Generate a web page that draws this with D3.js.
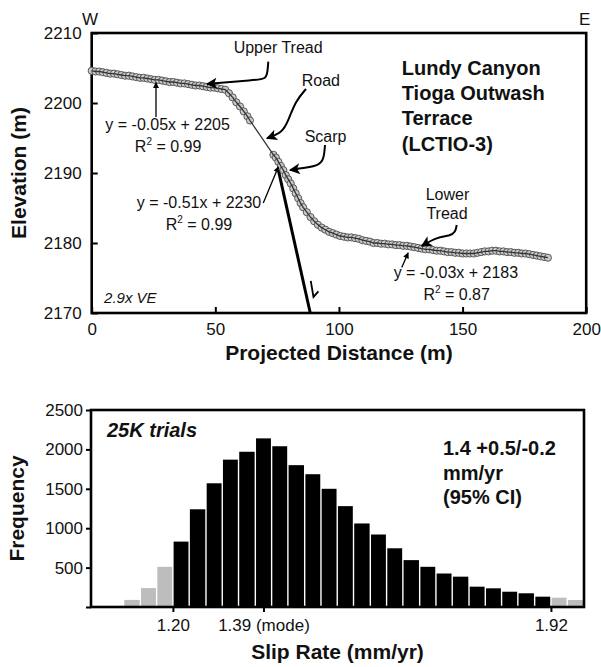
<!DOCTYPE html>
<html>
<head>
<meta charset="utf-8">
<script src="https://cdnjs.cloudflare.com/ajax/libs/d3/7.8.5/d3.min.js"></script>
<style>
  body { margin: 0; background: #fff; }
  svg { display: block; font-family: "Liberation Sans", Arial, sans-serif; }
</style>
</head>
<body>
<svg id="chart"></svg>
<script>
const width = 601;
const height = 667;

// ---- topographic profile (distance m, elevation m)
const profile = [
  [0, 2204.6], [1.5, 2204.5], [3, 2204.5], [4.5, 2204.4], [6, 2204.3], [7.5, 2204.2],
  [9, 2204.2], [10.5, 2204.1], [12, 2204.0], [13.5, 2203.9], [15, 2203.9], [16.5, 2203.8],
  [18, 2203.7], [19.5, 2203.6], [21, 2203.6], [22.5, 2203.5], [24, 2203.4], [25.5, 2203.3],
  [27, 2203.3], [28.5, 2203.2], [30, 2203.1], [31.5, 2203.0], [33, 2203.0], [34.5, 2202.9],
  [36, 2202.8], [37.5, 2202.8], [39, 2202.7], [40.5, 2202.6], [42, 2202.5], [43.5, 2202.5],
  [45, 2202.4], [46.5, 2202.3], [48, 2202.2], [49.5, 2202.2], [51, 2202.1], [52.5, 2202.0],
  [54, 2201.9], [55.5, 2201.4], [57, 2200.8], [58.5, 2200.1], [60, 2199.5], [61.5, 2198.8],
  [63, 2198.1], [64, 2197.5],
  [73.5, 2192.6], [74.5, 2192.2], [75.5, 2191.6], [76.5, 2191.0], [77.5, 2190.4], [78.5, 2189.7],
  [79.5, 2189.1], [80.5, 2188.5], [81.5, 2187.8], [82.5, 2187.1], [83.5, 2186.4], [84.5, 2185.7],
  [85.5, 2185.1], [87, 2184.4], [88.5, 2183.7], [90, 2183.1], [91.5, 2182.6], [93, 2182.2],
  [94.5, 2181.9], [96, 2181.6], [97.5, 2181.4], [99, 2181.2], [100.5, 2181.0], [102, 2180.9],
  [103.5, 2180.8], [105, 2180.8], [106.5, 2180.7], [108, 2180.6], [109.5, 2180.4], [111, 2180.3],
  [112.5, 2180.2], [114, 2180.0], [115.5, 2180.0], [117, 2179.9], [118.5, 2179.9], [120, 2179.8],
  [121.5, 2179.8], [123, 2179.7], [124.5, 2179.7], [126, 2179.6], [127.5, 2179.6], [129, 2179.5],
  [130.5, 2179.4], [132, 2179.3], [133.5, 2179.2], [135, 2179.1], [136.5, 2179.1], [138, 2179.0],
  [139.5, 2178.9], [141, 2178.9], [142.5, 2178.8], [144, 2178.7], [145.5, 2178.7], [147, 2178.6],
  [148.5, 2178.6], [150, 2178.5], [151.5, 2178.5], [153, 2178.5], [154.5, 2178.5], [156, 2178.6],
  [157.5, 2178.7], [159, 2178.8], [160.5, 2178.8], [162, 2178.9], [163.5, 2178.9], [165, 2178.8],
  [166.5, 2178.8], [168, 2178.7], [169.5, 2178.7], [171, 2178.6], [172.5, 2178.6], [174, 2178.5],
  [175.5, 2178.5], [177, 2178.4], [178.5, 2178.3], [180, 2178.2], [181.5, 2178.1], [183, 2178.0],
  [184.5, 2177.9]
];

const faultTrace = [[75.5, 2190.4], [88.4, 2170]];
const slipSense = [[88.6, 2174.6], [89.7, 2172.3], [91.7, 2173.1]];

const distTicks = [0, 50, 100, 150, 200];
const elevTicks = [2170, 2180, 2190, 2200, 2210];

// ---- slip-rate histogram
const binEdges = [1.044, 1.075, 1.106, 1.138, 1.169, 1.200, 1.231, 1.263, 1.294, 1.325,
  1.357, 1.388, 1.419, 1.451, 1.482, 1.513, 1.544, 1.576, 1.607, 1.638,
  1.670, 1.701, 1.732, 1.764, 1.795, 1.826, 1.857, 1.889, 1.920, 1.951, 1.983];
const counts = [0, 0, 90, 240, 510, 830, 1240, 1570, 1870, 1970,
  2140, 2040, 1800, 1685, 1500, 1280, 1060, 920, 745, 595,
  510, 425, 385, 258, 237, 194, 174, 131, 118, 89];
const ciLow = 1.20;
const ciHigh = 1.92;
const rateTicks = [1.20, 1.3725, 1.92];
const rateTickLabels = ["1.20", "1.39 (mode)", "1.92"];
const freqTicks = [0, 500, 1000, 1500, 2000, 2500];

const svg = d3.select("#chart")
  .attr("width", width)
  .attr("height", height);

svg.append("rect").attr("width", width).attr("height", height).attr("fill", "#fff");

const defs = svg.append("defs");
defs.append("marker")
  .attr("id", "headLg")
  .attr("viewBox", "0 0 10 10")
  .attr("refX", 9).attr("refY", 5)
  .attr("markerUnits", "userSpaceOnUse")
  .attr("markerWidth", 15).attr("markerHeight", 11)
  .attr("orient", "auto")
  .append("path").attr("d", "M0,0 L10,5 L0,10 L2.5,5 Z").attr("fill", "#000");
defs.append("marker")
  .attr("id", "headSm")
  .attr("viewBox", "0 0 10 10")
  .attr("refX", 9).attr("refY", 5)
  .attr("markerUnits", "userSpaceOnUse")
  .attr("markerWidth", 7).attr("markerHeight", 6)
  .attr("orient", "auto")
  .append("path").attr("d", "M0,0 L10,5 L0,10 Z").attr("fill", "#000");

// ================= profile panel =================
const x1 = d3.scaleLinear().domain([0, 200]).range([91.7, 586.2]);
const y1 = d3.scaleLinear().domain([2170, 2210]).range([313, 33]);

const prof = svg.append("g");

prof.append("g")
  .attr("transform", `translate(0,${y1(2170)})`)
  .call(d3.axisBottom(x1).tickValues(distTicks).tickSizeInner(-6).tickSizeOuter(0).tickPadding(10))
  .call(g => g.select(".domain").remove())
  .call(g => g.selectAll("line").attr("stroke-width", 2))
  .call(g => g.selectAll("text").attr("font-size", 17).attr("fill", "#111").attr("font-family", null));

prof.append("g")
  .attr("transform", `translate(${x1(0)},0)`)
  .call(d3.axisLeft(y1).tickValues(elevTicks).tickFormat(d3.format("d")).tickSizeInner(-6).tickSizeOuter(0).tickPadding(10))
  .call(g => g.select(".domain").remove())
  .call(g => g.selectAll("line").attr("stroke-width", 2))
  .call(g => g.selectAll("text").attr("font-size", 17).attr("fill", "#111").attr("font-family", null));

prof.append("rect")
  .attr("x", x1(0)).attr("y", y1(2210))
  .attr("width", x1(200) - x1(0)).attr("height", y1(2170) - y1(2210))
  .attr("fill", "none").attr("stroke", "#000").attr("stroke-width", 2.6);

const line1 = d3.line().x(d => x1(d[0])).y(d => y1(d[1]));

// fault trace and slip sense
prof.append("path").attr("d", line1(faultTrace))
  .attr("fill", "none").attr("stroke", "#000").attr("stroke-width", 3);
prof.append("path").attr("d", line1(slipSense))
  .attr("fill", "none").attr("stroke", "#000").attr("stroke-width", 1.8);

// profile points
prof.append("g")
  .selectAll("circle")
  .data(profile)
  .join("circle")
  .attr("cx", d => x1(d[0]))
  .attr("cy", d => y1(d[1]))
  .attr("r", 3.6)
  .attr("fill", "#c9c9c9")
  .attr("stroke", "#4a4a4a")
  .attr("stroke-width", 0.9);

prof.append("path").attr("d", line1(profile))
  .attr("fill", "none").attr("stroke", "#333").attr("stroke-width", 1.3);

// curly arrows
const curly = [
  [[71.43, 2205.9], [71.1, 2204.43], [70.5, 2203.43], [66.05, 2203.29], [46.63, 2202.71]],
  [[86.67, 2202.0], [82.5, 2200.3], [79.4, 2197.4], [77.2, 2195.8], [70.9, 2194.96]],
  [[94.36, 2194.0], [93.95, 2192.14], [92.34, 2191.14], [86.27, 2190.71], [80.2, 2190.43]],
  [[147.62, 2182.57], [147.14, 2181.57], [144.92, 2181.0], [139.66, 2180.86], [133.47, 2179.57]]
];
const curveLine = d3.line().x(d => x1(d[0])).y(d => y1(d[1])).curve(d3.curveBasis);
prof.append("g").selectAll("path")
  .data(curly)
  .join("path")
  .attr("d", curveLine)
  .attr("fill", "none").attr("stroke", "#000").attr("stroke-width", 2)
  .attr("marker-end", "url(#headLg)");

const straight = [
  [[26.0, 2198.0], [26.0, 2202.9]],
  [[69.4, 2185.7], [75.5, 2190.9]],
  [[125.4, 2176.5], [128.0, 2178.6]]
];
prof.append("g").selectAll("path")
  .data(straight)
  .join("path")
  .attr("d", line1)
  .attr("fill", "none").attr("stroke", "#000").attr("stroke-width", 1.3)
  .attr("marker-end", "url(#headSm)");

// labels
const notes = [
  {t: "Upper Tread", x: 75.4, y: 2207.1},
  {t: "Road", x: 92.7, y: 2202.4},
  {t: "Scarp", x: 94.6, y: 2194.5},
  {t: "Lower", x: 143.9, y: 2186.1},
  {t: "Tread", x: 143.7, y: 2183.4},
  {t: "y = -0.05x + 2205", x: 30.7, y: 2196.1},
  {t: "y = -0.51x + 2230", x: 43.4, y: 2185.0},
  {t: "y = -0.03x + 2183", x: 147.3, y: 2175.0}
];
prof.append("g").selectAll("text")
  .data(notes)
  .join("text")
  .attr("x", d => x1(d.x))
  .attr("y", d => y1(d.y))
  .attr("text-anchor", "middle")
  .attr("font-size", 16)
  .attr("fill", "#111")
  .text(d => d.t);

const r2 = [
  {v: "0.99", x: 30.9, y: 2193.0},
  {v: "0.99", x: 43.4, y: 2181.9},
  {v: "0.87", x: 147.6, y: 2171.9}
];
const r2Text = prof.append("g").selectAll("text")
  .data(r2)
  .join("text")
  .attr("x", d => x1(d.x))
  .attr("y", d => y1(d.y))
  .attr("text-anchor", "middle")
  .attr("font-size", 16)
  .attr("fill", "#111");
r2Text.append("tspan").text("R");
r2Text.append("tspan").attr("dy", -7).attr("font-size", 10).text("2");
r2Text.append("tspan").attr("dy", 7).text(d => " = " + d.v);

prof.append("text")
  .attr("x", x1(5)).attr("y", y1(2171.5))
  .attr("font-size", 15).attr("font-style", "italic").attr("fill", "#111")
  .text("2.9x VE");

const titleLines = ["Lundy Canyon", "Tioga Outwash", "Terrace", "(LCTIO-3)"];
prof.append("g").selectAll("text")
  .data(titleLines)
  .join("text")
  .attr("x", x1(125.4))
  .attr("y", (d, i) => y1(2204.0) + i * 25.2)
  .attr("font-size", 20).attr("font-weight", "bold").attr("fill", "#111")
  .text(d => d);

prof.append("text").attr("x", 82).attr("y", 25).attr("font-size", 17).attr("fill", "#111").text("W");
prof.append("text").attr("x", 579).attr("y", 25).attr("font-size", 17).attr("fill", "#111").text("E");

prof.append("text")
  .attr("x", (x1(0) + x1(200)) / 2).attr("y", 360)
  .attr("text-anchor", "middle")
  .attr("font-size", 21).attr("font-weight", "bold").attr("fill", "#111")
  .text("Projected Distance (m)");

prof.append("text")
  .attr("transform", `translate(26,${(y1(2170) + y1(2210)) / 2}) rotate(-90)`)
  .attr("text-anchor", "middle")
  .attr("font-size", 21).attr("font-weight", "bold").attr("fill", "#111")
  .text("Elevation (m)");

// ================= histogram panel =================
const x2 = d3.scaleLinear().domain([binEdges[0], binEdges[binEdges.length - 1]]).range([91, 584]);
const y2 = d3.scaleLinear().domain([0, 2500]).range([607, 410]);

const bins = counts.map((c, i) => ({x0: binEdges[i], x1: binEdges[i + 1], n: c}));

const hist = svg.append("g");

hist.append("g").selectAll("rect")
  .data(bins.filter(d => d.n > 0))
  .join("rect")
  .attr("x", d => x2(d.x0) + 0.7)
  .attr("width", d => x2(d.x1) - x2(d.x0) - 1.4)
  .attr("y", d => y2(d.n))
  .attr("height", d => y2(0) - y2(d.n))
  .attr("fill", d => (d.x0 < ciLow - 1e-6 || d.x0 >= ciHigh - 1e-6) ? "#bdbdbd" : "#000");

hist.append("g")
  .attr("transform", `translate(0,${y2(0)})`)
  .call(d3.axisBottom(x2).tickValues(rateTicks).tickFormat((d, i) => rateTickLabels[i]).tickSizeInner(5).tickSizeOuter(0).tickPadding(7))
  .call(g => g.select(".domain").remove())
  .call(g => g.selectAll("line").attr("stroke-width", 2))
  .call(g => g.selectAll("text").attr("font-size", 17).attr("fill", "#111").attr("font-family", null));

hist.append("g")
  .attr("transform", `translate(${x2.range()[0]},0)`)
  .call(d3.axisLeft(y2).tickValues(freqTicks).tickFormat(d => d === 0 ? "" : d).tickSizeInner(5).tickSizeOuter(0).tickPadding(3))
  .call(g => g.select(".domain").remove())
  .call(g => g.selectAll("line").attr("stroke-width", 2))
  .call(g => g.selectAll("text").attr("font-size", 17).attr("fill", "#111").attr("font-family", null));

hist.append("rect")
  .attr("x", x2.range()[0]).attr("y", y2(2500))
  .attr("width", x2.range()[1] - x2.range()[0]).attr("height", y2(0) - y2(2500))
  .attr("fill", "none").attr("stroke", "#000").attr("stroke-width", 2.6);

hist.append("text")
  .attr("x", x2.range()[0] + 16).attr("y", y2(2500) + 27)
  .attr("font-size", 20).attr("font-weight", "bold").attr("font-style", "italic").attr("fill", "#111")
  .text("25K trials");

const ciLines = ["1.4 +0.5/-0.2", "mm/yr", "(95% CI)"];
hist.append("g").selectAll("text")
  .data(ciLines)
  .join("text")
  .attr("x", 443)
  .attr("y", (d, i) => y2(2500) + 45 + i * 24.5)
  .attr("font-size", 20).attr("font-weight", "bold").attr("fill", "#111")
  .text(d => d);

hist.append("text")
  .attr("x", (x2.range()[0] + x2.range()[1]) / 2).attr("y", 659)
  .attr("text-anchor", "middle")
  .attr("font-size", 21).attr("font-weight", "bold").attr("fill", "#111")
  .text("Slip Rate (mm/yr)");

hist.append("text")
  .attr("transform", `translate(24,${(y2(0) + y2(2500)) / 2}) rotate(-90)`)
  .attr("text-anchor", "middle")
  .attr("font-size", 21).attr("font-weight", "bold").attr("fill", "#111")
  .text("Frequency");
</script>
</body>
</html>
